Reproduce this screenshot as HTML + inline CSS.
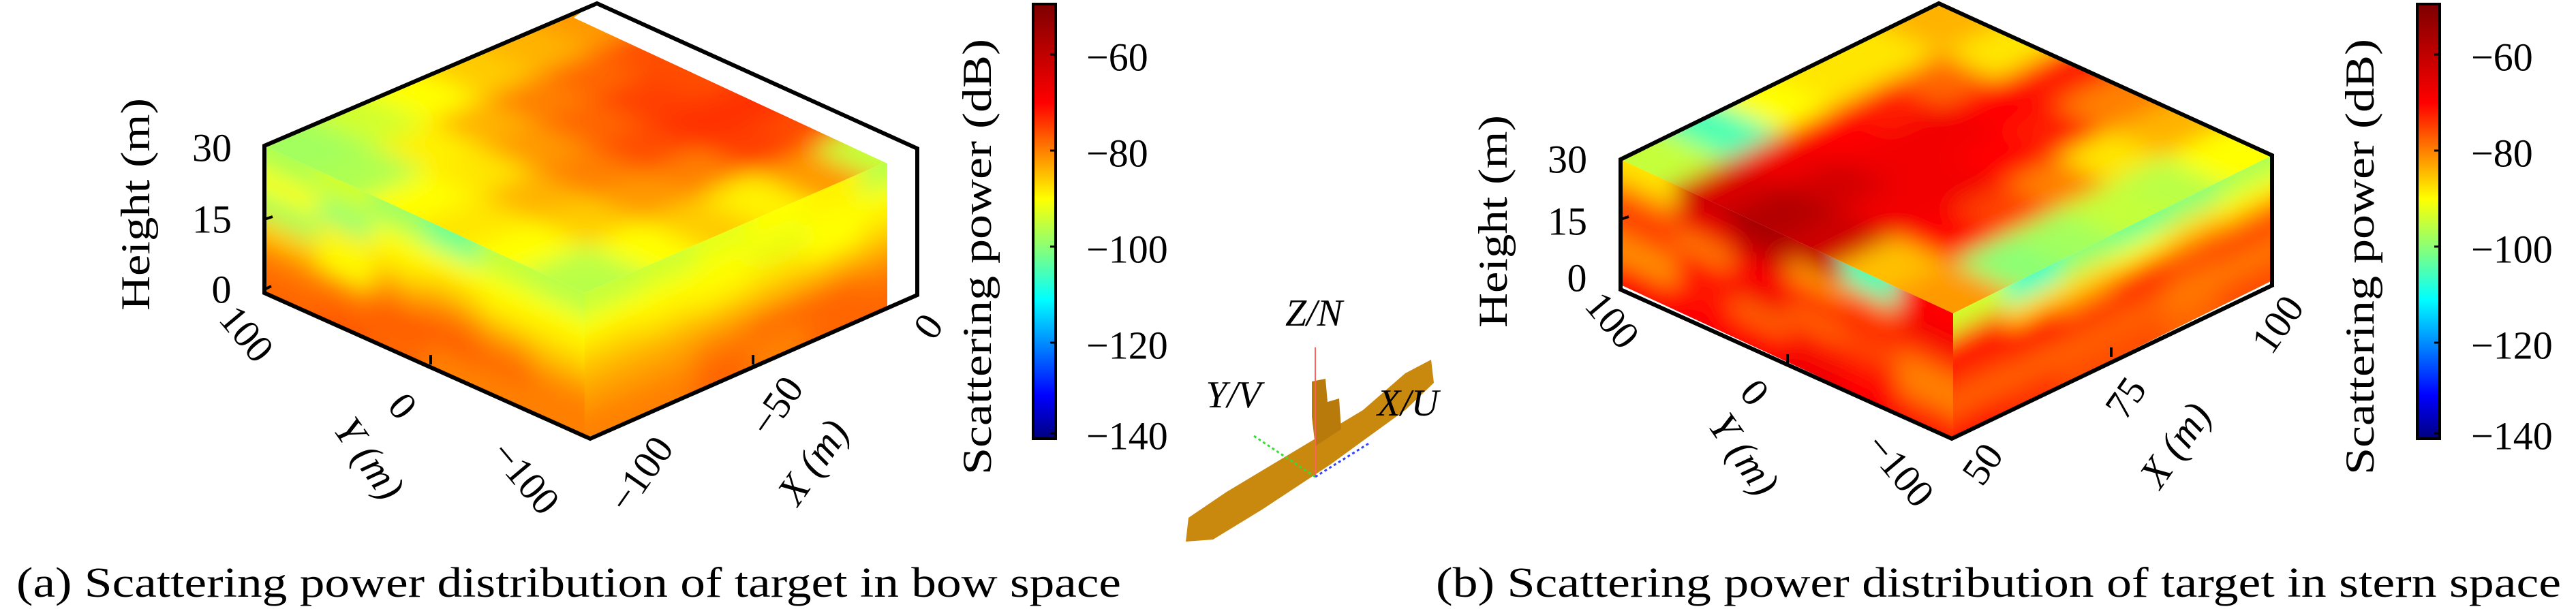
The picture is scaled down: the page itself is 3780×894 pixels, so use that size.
<!DOCTYPE html>
<html><head><meta charset="utf-8"><style>
html,body{margin:0;padding:0;background:#fff;}
svg{display:block;}
text{font-family:"Liberation Serif",serif;fill:#000;}
</style></head><body>
<svg id="fig" width="3780" height="894" viewBox="0 0 3780 894" xmlns="http://www.w3.org/2000/svg">
<defs>
<filter id="blur" x="-20%" y="-20%" width="140%" height="140%"><feGaussianBlur stdDeviation="17"/></filter>
<linearGradient id="jet" x1="0" y1="1" x2="0" y2="0"></linearGradient>
</defs>
<g id="plotA"></g>
<g id="plotB"></g>
<g id="ship">
  <polygon points="1740,795 1744,760 1800,722 1900,662 2000,602 2062,548 2100,528 2104,562 2062,602 1952,682 1852,748 1780,792" fill="#c9890f"/>
  <polygon points="1925,612 1925,560 1945,556 1948,590 1965,585 1968,630 1930,655" fill="#b87a0a"/>
  <line x1="1930" y1="510" x2="1930" y2="700" stroke="#ff6060" stroke-width="2"/>
  <line x1="1840" y1="640" x2="1930" y2="700" stroke="#33dd33" stroke-width="3" stroke-dasharray="4,4"/>
  <line x1="1930" y1="700" x2="2010" y2="650" stroke="#3344ff" stroke-width="3" stroke-dasharray="4,4"/>
  <text x="1928" y="478" font-size="56" font-style="italic" text-anchor="middle">Z/N</text>
  <text x="1810" y="598" font-size="56" font-style="italic" text-anchor="middle">Y/V</text>
  <text x="2066" y="610" font-size="56" font-style="italic" text-anchor="middle">X/U</text>
</g>
<text x="24" y="876" font-size="62" textLength="1621" lengthAdjust="spacingAndGlyphs">(a) Scattering power distribution of target in bow space</text>
<text x="2107" y="876" font-size="62" textLength="1651" lengthAdjust="spacingAndGlyphs">(b) Scattering power distribution of target in stern space</text>
</svg>
<script>
// colormap stops (dB, color)
const cmapVals = [-140,-131,-121,-111,-101,-90,-80,-70,-60,-50];
const cmapCols = ['#000080','#0000ff','#0080ff','#00ffff','#80ff80','#ffff00','#ff8000','#ff0000','#c00000','#800000'];
const cbTicks = [-60,-80,-100,-120,-140];
const cbMin = -140, cbMax = -49.5;

// Bow plot: top face rows = toward back-left, cols = toward back-right
const bowTop = [
 [-96,-90,-86,-89,-82,-95],
 [-90,-86,-82,-80,-75,-76],
 [-88,-84,-80,-76,-74,-74],
 [-90,-88,-82,-78,-75,-76],
 [-97,-89,-84,-80,-78,-76],
 [-98,-94,-90,-86,-84,-82]];
// side faces: rows = top->bottom, cols = from front corner outward
const bowLeft = [
 [-96,-95,-102,-98,-94,-97],
 [-90,-90,-90,-90,-100,-90],
 [-88,-88,-86,-88,-89,-98],
 [-84,-82,-80,-82,-90,-86],
 [-80,-78,-77,-77,-80,-80],
 [-80,-80,-80,-78,-77,-78]];
const bowRight = [
 [-95,-94,-92,-90,-89,-96],
 [-90,-90,-90,-92,-90,-90],
 [-87,-88,-89,-88,-90,-88],
 [-84,-84,-84,-84,-84,-84],
 [-82,-82,-80,-78,-78,-80],
 [-80,-80,-78,-80,-78,-78]];
// Stern plot
const sternTop = [
 [-82,-100,-98,-95,-96,-90],
 [-85,-70,-75,-80,-88,-84],
 [-62,-68,-68,-70,-72,-80],
 [-58,-63,-68,-68,-70,-72],
 [-64,-68,-70,-72,-78,-88],
 [-95,-105,-90,-88,-88,-84]];
const sternLeft = [
 [-70,-105,-60,-56,-62,-88],
 [-68,-78,-82,-62,-68,-80],
 [-74,-70,-70,-70,-80,-72],
 [-80,-76,-78,-68,-70,-78],
 [-80,-72,-72,-78,-72,-82],
 [-72,-70,-68,-70,-70,-70]];
const sternRight = [
 [-94,-106,-100,-102,-100,-97],
 [-74,-88,-88,-90,-88,-90],
 [-70,-70,-80,-75,-78,-80],
 [-75,-74,-72,-74,-76,-74],
 [-78,-78,-78,-78,-80,-80],
 [-72,-74,-76,-76,-78,-76]];
const bowHeightTicks = ['30','15','0'];
const bowYTicks = ['100','0','\u2212100'];
const bowXTicks = ['\u2212100','\u221250','0'];
const sternHeightTicks = ['30','15','0'];
const sternYTicks = ['100','0','\u2212100'];
const sternXTicks = ['50','75','100'];

const NS='http://www.w3.org/2000/svg';
function hex2rgb(h){return [1,3,5].map(i=>parseInt(h.substr(i,2),16));}
function color(v){
  if(v<=cmapVals[0]) return cmapCols[0];
  for(let i=1;i<cmapVals.length;i++){
    if(v<=cmapVals[i]){
      const f=(v-cmapVals[i-1])/(cmapVals[i]-cmapVals[i-1]);
      const a=hex2rgb(cmapCols[i-1]), b=hex2rgb(cmapCols[i]);
      return 'rgb('+a.map((x,k)=>Math.round(x+(b[k]-x)*f)).join(',')+')';
    }
  }
  return cmapCols[cmapCols.length-1];
}
function el(tag,attrs,parent){const e=document.createElementNS(NS,tag);for(const k in attrs)e.setAttribute(k,attrs[k]);if(parent)parent.appendChild(e);return e;}
let clipId=0;
function drawFace(parent,O,U,V,vals,name){
  const id='clip'+(clipId++);
  const cp=el('clipPath',{id:id},document.querySelector('defs'));
  const P=(s,t)=>[O[0]+s*U[0]+t*V[0],O[1]+s*U[1]+t*V[1]];
  el('polygon',{points:[P(0,0),P(1,0),P(1,1),P(0,1)].map(p=>p.join(',')).join(' ')},cp);
  const outer=el('g',{'clip-path':'url(#'+id+')'},parent);
  
  
  const g=el('g',{filter:'url(#blur)'},outer);
  const nr=vals.length,nc=vals[0].length;
  for(let r=0;r<nr;r++)for(let c=0;c<nc;c++){
    const t0=r===0?-0.3:r/nr, t1=r===nr-1?1.3:(r+1)/nr;
    const s0=c===0?-0.3:c/nc, s1=c===nc-1?1.3:(c+1)/nc;
    const col=color(vals[r][c]);
    const cell=el('polygon',{points:[P(s0,t0),P(s1,t0),P(s1,t1),P(s0,t1)].map(p=>p.join(',')).join(' '),fill:col,stroke:col,'stroke-width':2},g);
    
    
  }
}
function txt(parent,x,y,s,size,opts){
  const t=el('text',Object.assign({x:x,y:y,'font-size':size,'text-anchor':'middle','dominant-baseline':'central'},opts||{}),parent);
  t.textContent=s;return t;
}
function colorbar(parent,x0,x1,y0,y1,labX,tickX){
  const grad=document.getElementById('jet');
  if(!grad.childNodes.length){
    cmapVals.forEach((v,i)=>{el('stop',{offset:Math.max(0,Math.min(1,(v-cbMin)/(cbMax-cbMin))),'stop-color':cmapCols[i]},grad);});
  }
  const r=el('rect',{x:x0,y:y0,width:x1-x0,height:y1-y0,fill:'url(#jet)',stroke:'#000','stroke-width':4},parent);
  
  
  const yv=v=>y1-(v-cbMin)/(cbMax-cbMin)*(y1-y0);
  cbTicks.forEach(v=>{
    const yy=Math.min(yv(v),y1-8);
    const t=el('text',{x:tickX,y:yy+4,'font-size':58,'dominant-baseline':'central'},parent);
    t.textContent='\u2212'+Math.abs(v);
    
    
    el('line',{x1:x1-8,x2:x1,y1:yy,y2:yy,stroke:'#000','stroke-width':3},parent);
  });
  const l=el('text',{x:0,y:0,'font-size':60,'text-anchor':'middle','dominant-baseline':'central',textLength:640,lengthAdjust:'spacingAndGlyphs',transform:'translate('+labX+',377) rotate(-90)'},parent);
  l.textContent='Scattering power (dB)';
  
  
}
function plot(parent,g){
  const {C,UL,UR,T,B,LL,LR,top,left,right}=g;
  const a=[UL[0]-C[0],UL[1]-C[1]], b=[UR[0]-C[0],UR[1]-C[1]], d=[0,B[1]-C[1]];
  drawFace(parent,C,b,a,top,'top-face-heatmap');
  drawFace(parent,C,a,d,left,'left-face-heatmap');
  drawFace(parent,C,b,d,right,'right-face-heatmap');
  if(g.whiteStrip){el('polygon',{points:g.whiteStrip,fill:'#fff'},parent);}
  const o=el('polygon',{points:[T,UR,LR,B,LL,UL].map(p=>p.join(',')).join(' '),fill:'none',stroke:'#000','stroke-width':6,'stroke-linejoin':'miter'},parent);
  
  
}
const A=document.getElementById('plotA'), Bp=document.getElementById('plotB');
plot(A,{C:[858,430],UL:[388,214],UR:[1346,218],T:[876,5],B:[866,644],LL:[388,430],LR:[1346,433],top:bowTop,left:bowLeft,right:bowRight,
  whiteStrip:'876,0 1352,216 1352,436 1302,459 1302,240 842,26'});
plot(Bp,{C:[2866,460],UL:[2378,234],UR:[3334,228],T:[2845,5],B:[2864,644],LL:[2378,425],LR:[3334,419],top:sternTop,left:sternLeft,right:sternRight});
[[388,322,400,318],[388,425,398,420],[632,535,632,521],[1105,535,1105,521]].forEach(l=>el('line',{x1:l[0],y1:l[1],x2:l[2],y2:l[3],stroke:'#000','stroke-width':4},A));
[[2378,322,2390,318],[2623,534,2623,520],[3098,524,3098,510]].forEach(l=>el('line',{x1:l[0],y1:l[1],x2:l[2],y2:l[3],stroke:'#000','stroke-width':4},Bp));
function axisLabels(parent,h,hPos,hLab,yT,yPos,yLab,xT,xPos,xLab){
  h.forEach((s,i)=>{const t=txt(parent,hPos[i][0],hPos[i][1],s,58);});
  const hl=el('text',{x:0,y:0,'font-size':60,'text-anchor':'middle','dominant-baseline':'central',textLength:312,lengthAdjust:'spacingAndGlyphs',transform:'translate('+hLab[0]+','+hLab[1]+') rotate(-90)'},parent);
  hl.textContent='Height (m)';
  yT.forEach((s,i)=>{const t=txt(parent,0,0,s,58,{transform:'translate('+yPos[i][0]+','+yPos[i][1]+') rotate(50)'});});
  const yl=txt(parent,0,0,'Y (m)',60,{transform:'translate('+yLab[0]+','+yLab[1]+') rotate(55)','font-style':'italic'});
  
  xT.forEach((s,i)=>{const t=txt(parent,0,0,s,58,{transform:'translate('+xPos[i][0]+','+xPos[i][1]+') rotate(-55)'});});
  const xl=txt(parent,0,0,'X (m)',60,{transform:'translate('+xLab[0]+','+xLab[1]+') rotate(-55)','font-style':'italic'});
  
}
axisLabels(A,bowHeightTicks,[[311,217],[311,322],[325,425]],[199,300],bowYTicks,[[362,490],[591,596],[771,701]],[542,673],bowXTicks,[[940,696],[1139,596],[1362,479]],[1193,678]);
axisLabels(Bp,sternHeightTicks,[[2300,234],[2300,325],[2314,408]],[2191,325],sternYTicks,[[2366,470],[2575,576],[2788,690]],[2559,667],sternXTicks,[[2909,681],[3119,584],[3342,476]],[3192,653]);
colorbar(A,1516,1549,6,644,1434,1594);
colorbar(Bp,3547,3580,6,644,3463,3626);
</script>
</body></html>
